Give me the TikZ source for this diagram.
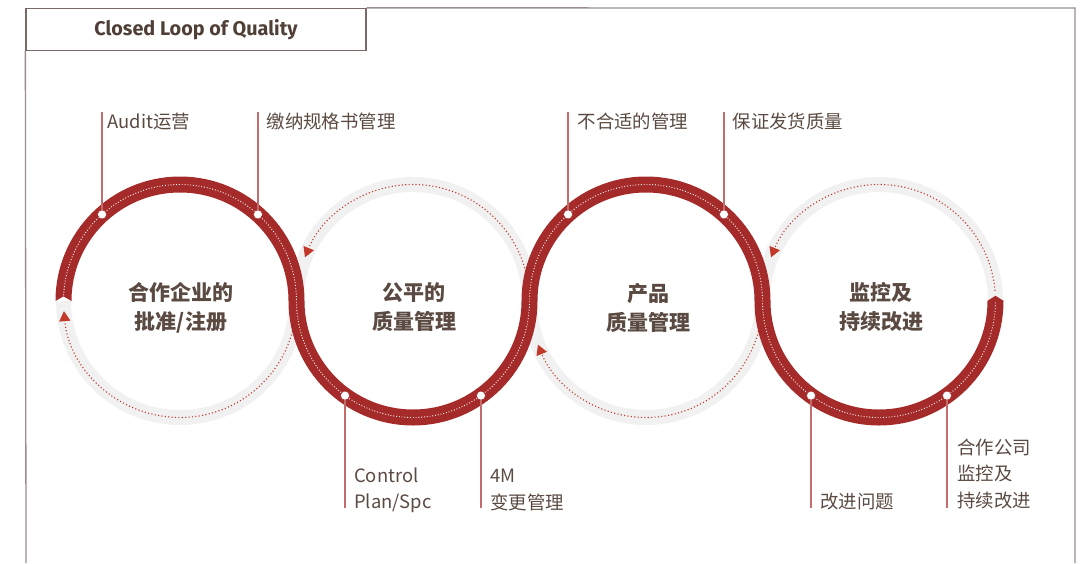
\documentclass[tikz,border=0pt]{standalone}
\usepackage{fontspec}
\setmainfont{Noto Sans CJK SC}
\newfontfamily\titlefont{Fira Sans}
\usetikzlibrary{arrows.meta}
\definecolor{redband}{HTML}{A52B2A}
\definecolor{grayband}{HTML}{F1F1F1}
\definecolor{txt}{HTML}{5A4A42}
\definecolor{titletxt}{HTML}{4F3F37}
\definecolor{leader}{HTML}{C46B6B}
\definecolor{framec}{HTML}{9A8E8C}
\definecolor{titlec}{HTML}{7A6A66}
\definecolor{dotred}{HTML}{C0392B}
\begin{document}
\begin{tikzpicture}[x=1pt,y=-1pt,
  ring/.style={draw=grayband,line width=15pt},
  band/.style={draw=redband,line width=16pt},
  whitedots/.style={draw=white,line width=0.9pt,dash pattern=on 0.9pt off 1.9pt},
  flow/.style={draw=dotred,line width=1.1pt,dash pattern=on 1.1pt off 2.3pt,-{Triangle[length=10pt,width=11pt]}},
  marker/.style={circle,fill=white,draw=redband,line width=0.5pt,inner sep=0pt,minimum size=9pt},
  leaderline/.style={draw=leader,line width=1.2pt},
  lbl/.style={text=txt,font=\fontsize{18.4}{26.5}\selectfont,inner sep=0pt,align=left,anchor=west},
  ctext/.style={text=txt,font=\fontsize{21}{29}\selectfont\bfseries,align=center,inner sep=0pt},
  framel/.style={draw=framec,line width=1.3pt}]
\useasboundingbox (0,0) rectangle (1088,563);

% frame and title
\node[draw=titlec,line width=1.3pt,minimum width=340pt,minimum height=42pt,inner sep=0pt,
      font=\titlefont\bfseries\fontsize{19.8}{22}\selectfont,text=titletxt] (title) at (196,29.5) {Closed Loop of Quality};
\coordinate (fbl) at (26,563);
\coordinate (ftr) at (1075,8);
\coordinate (fbr) at (1075,563);
\draw[framel] (title.south west) -- (fbl);
\draw[framel] (title.north east) -- (ftr) -- (fbr);

% gray rings
\draw[ring] (180,301) circle[radius=116.5];
\draw[ring] (413,301) circle[radius=116.5];
\draw[ring] (646,301) circle[radius=116.5];
\draw[ring] (879,301) circle[radius=116.5];

% dotted flows on gray
\draw[flow] ([shift={(180,301)}]5:116.5) arc[start angle=5,end angle=175,radius=116.5];
\draw[flow] ([shift={(413,301)}]-3:116.5) arc[start angle=-3,end angle=-158,radius=116.5];
\draw[flow] ([shift={(646,301)}]5:116.5) arc[start angle=5,end angle=158,radius=116.5];
\draw[flow] ([shift={(879,301)}]-5:116.5) arc[start angle=-5,end angle=-158,radius=116.5];

% red band
\draw[band] (63.5,301) arc[start angle=180,end angle=360,radius=116.5]
  arc[start angle=180,end angle=0,radius=116.5]
  arc[start angle=180,end angle=360,radius=116.5]
  arc[start angle=180,end angle=0,radius=116.5];
\draw[whitedots] (63.5,301) arc[start angle=180,end angle=360,radius=116.5]
  arc[start angle=180,end angle=0,radius=116.5]
  arc[start angle=180,end angle=360,radius=116.5]
  arc[start angle=180,end angle=0,radius=116.5];
\fill[white] (55.3,301.3) -- (71.7,301.3) -- (63.5,296.5) -- cycle;
\fill[redband] (987.5,300.8) -- (1003.5,300.8) -- (995.5,295.8) -- cycle;

% center texts
\node[ctext] (c1) at (181,307.5) {合作企业的\\批准/注册};
\node[ctext] (c2) at (414,307.5) {公平的\\质量管理};
\node[ctext] (c3) at (648,307.5) {产品\\质量管理};
\node[ctext] (c4) at (881,307.5) {监控及\\持续改进};

% markers
\node[marker] (m1a) at ([shift={(180,301)}]228:116.5) {};
\node[marker] (m1b) at ([shift={(180,301)}]312:116.5) {};
\node[marker] (m2a) at ([shift={(413,301)}]125.7:116.5) {};
\node[marker] (m2b) at ([shift={(413,301)}]54.3:116.5) {};
\node[marker] (m3a) at ([shift={(646,301)}]228:116.5) {};
\node[marker] (m3b) at ([shift={(646,301)}]312:116.5) {};
\node[marker] (m4a) at ([shift={(879,301)}]125.7:116.5) {};
\node[marker] (m4b) at ([shift={(879,301)}]54.3:116.5) {};

% leader lines
\coordinate (topy) at (0,112);
\coordinate (boty) at (0,508);
\foreach \m in {m1a,m1b,m3a,m3b}{\draw[leaderline] (\m) -- (\m |- topy);}
\foreach \m in {m2a,m2b,m4a,m4b}{\draw[leaderline] (\m) -- (\m |- boty);}

% labels
\node[lbl] (l1a) at (107.5,121.5) {Audit运营};
\node[lbl] (l1b) at (266.5,121.5) {缴纳规格书管理};
\node[lbl] (l3a) at (577.5,121.5) {不合适的管理};
\node[lbl] (l3b) at (732.5,121.5) {保证发货质量};
\node[lbl] (l2a) at (354,490.5) {Control\\Plan/Spc};
\node[lbl] (l2b) at (490,490) {4M\\变更管理};
\node[lbl] (l4a) at (820,501.5) {改进问题};
\node[lbl] (l4b) at (957,474) {合作公司\\监控及\\持续改进};
\end{tikzpicture}
\end{document}
